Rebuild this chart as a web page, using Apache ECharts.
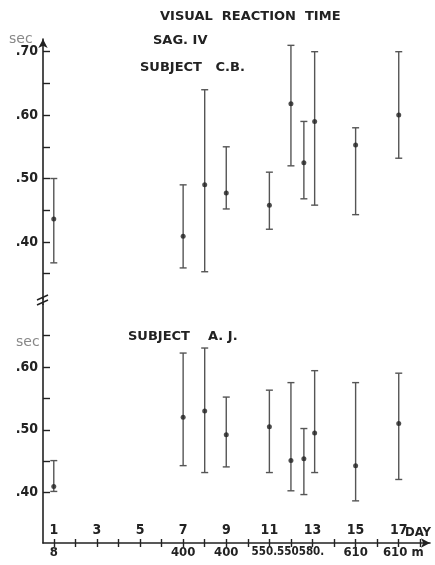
<!DOCTYPE html>
<html><head><meta charset="utf-8">
<script src="https://cdn.jsdelivr.net/npm/echarts@6/dist/echarts.min.js"></script>
<style>html,body{margin:0;padding:0;background:#fff}#c{width:435px;height:565px}</style>
</head><body><div id="c"></div>
<script>
// Data
var days = [1, 7, 8, 9, 11, 12, 12.6, 13.1, 15, 17];
var cbMean = [0.436, 0.409, 0.49, 0.477, 0.458, 0.618, 0.525, 0.59, 0.553, 0.60];
var cbLow  = [0.367, 0.359, 0.353, 0.452, 0.42, 0.52, 0.468, 0.458, 0.443, 0.532];
var cbHigh = [0.50, 0.49, 0.64, 0.55, 0.51, 0.71, 0.59, 0.70, 0.58, 0.70];
var ajMean = [0.41, 0.52, 0.53, 0.492, 0.505, 0.451, 0.454, 0.495, 0.443, 0.51];
var ajLow  = [0.402, 0.443, 0.432, 0.441, 0.432, 0.403, 0.397, 0.432, 0.387, 0.421];
var ajHigh = [0.451, 0.622, 0.63, 0.552, 0.563, 0.575, 0.502, 0.594, 0.575, 0.59];
var dayTicks = [1,2,3,4,5,6,7,8,9,10,11,12,13,14,15,16,17,18];
var dayLabels = [1,3,5,7,9,11,13,15,17];
var altDays = [1, 7, 9, 11, 15, 17];
var altLabels = ['8', '400', '400', '550.550580.', '610', '610 m'];
var yTicksTop = [0.35, 0.40, 0.45, 0.50, 0.55, 0.60, 0.65, 0.70];
var yLabelsTop = [0.40, 0.50, 0.60, 0.70];
var yTicksBot = [0.40, 0.45, 0.50, 0.55, 0.60, 0.65];
var yLabelsBot = [0.40, 0.50, 0.60];

var NARROW = '"Liberation Sans Narrow","DejaVu Sans Condensed",sans-serif';
var INK = '#222';
var BAR = '#555';

function pairs(xs, ys){ return xs.map(function(x,i){return [x, ys[i]];}); }
function triples(xs, lo, hi){ return xs.map(function(x,i){return [x, lo[i], hi[i]];}); }

function errRender(params, api){
  var x = api.value(0);
  var p1 = api.coord([x, api.value(2)]);
  var p2 = api.coord([x, api.value(1)]);
  var w = 3.5;
  var st = {stroke: BAR, lineWidth: 1.4};
  return {type:'group', children:[
    {type:'line', shape:{x1:p1[0], y1:p1[1], x2:p2[0], y2:p2[1]}, style:st},
    {type:'line', shape:{x1:p1[0]-w, y1:p1[1], x2:p1[0]+w, y2:p1[1]}, style:st},
    {type:'line', shape:{x1:p2[0]-w, y1:p2[1], x2:p2[0]+w, y2:p2[1]}, style:st}
  ]};
}

var yLabelStyle = {
  fontFamily: NARROW, fontWeight: 'bold', fontSize: 14, color: INK, margin: 5,
  formatter: function(v){ return '.' + Math.round(v*100); }
};

var xMin = 0.5, xMax = 18.45;
var TFONT = 'bold 13px "DejaVu Sans"';

var option = {
  animation: false,
  grid: [
    {left: 43, width: 387, top: 39, height: 260},
    {left: 43, width: 387, top: 304, height: 239}
  ],
  xAxis: [
    {gridIndex: 0, type: 'value', min: xMin, max: xMax, show: false},
    {gridIndex: 1, type: 'value', min: xMin, max: xMax, position: 'bottom',
      splitLine: {show: false},
      axisLine: {show: true, lineStyle: {color: INK, width: 1.6}, symbol: ['none','arrow'], symbolSize: [7, 9]},
      axisTick: {show: true, inside: true, length: 4, lineStyle: {color: INK, width: 1.4}, customValues: dayTicks},
      axisLabel: {show: true, inside: true, margin: 6, customValues: dayLabels,
        fontFamily: NARROW, fontWeight: 'bold', fontSize: 14, color: INK}
    },
    {gridIndex: 1, type: 'value', min: xMin, max: xMax, position: 'bottom',
      splitLine: {show: false},
      axisLine: {show: false},
      axisTick: {show: true, inside: false, length: 4, lineStyle: {color: INK, width: 1.4}, customValues: dayTicks},
      axisLabel: {show: true, margin: 3, customValues: altDays,
        fontFamily: NARROW, fontWeight: 'bold', fontSize: 13, color: INK,
        formatter: function(v){
          var i = altDays.indexOf(v);
          var t = altLabels[i];
          if (t.length > 8) return '{w|' + t + '}';
          if (t.indexOf('m') >= 0) return '{m|' + t + '}';
          return t;
        },
        rich: {
          w: {fontFamily: NARROW, fontWeight: 'bold', fontSize: 11.5, color: INK, padding: [0,0,0,37]},
          m: {fontFamily: NARROW, fontWeight: 'bold', fontSize: 13, color: INK, padding: [0,0,0,9]}
        }
      }
    }
  ],
  yAxis: [
    {gridIndex: 0, type: 'value', min: 0.31, max: 0.72,
      splitLine: {show: false},
      axisLine: {show: true, lineStyle: {color: INK, width: 1.6}, symbol: ['none','arrow'], symbolSize: [7, 9]},
      axisTick: {show: true, inside: true, length: 7, lineStyle: {color: INK, width: 1.4}, customValues: yTicksTop},
      axisLabel: Object.assign({customValues: yLabelsTop}, yLabelStyle)
    },
    {gridIndex: 1, type: 'value', min: 0.32, max: 0.70,
      splitLine: {show: false},
      axisLine: {show: true, lineStyle: {color: INK, width: 1.6}},
      axisTick: {show: true, inside: true, length: 7, lineStyle: {color: INK, width: 1.4}, customValues: yTicksBot},
      axisLabel: Object.assign({customValues: yLabelsBot}, yLabelStyle)
    }
  ],
  series: [
    {type: 'custom', xAxisIndex: 0, yAxisIndex: 0, renderItem: errRender,
      data: triples(days, cbLow, cbHigh), encode: {x: 0, y: [1, 2]}, silent: true},
    {type: 'scatter', xAxisIndex: 0, yAxisIndex: 0, data: pairs(days, cbMean),
      symbolSize: 5, itemStyle: {color: INK}, silent: true},
    {type: 'custom', xAxisIndex: 1, yAxisIndex: 1, renderItem: errRender,
      data: triples(days, ajLow, ajHigh), encode: {x: 0, y: [1, 2]}, silent: true},
    {type: 'scatter', xAxisIndex: 1, yAxisIndex: 1, data: pairs(days, ajMean),
      symbolSize: 5, itemStyle: {color: INK}, silent: true}
  ],
  graphic: [
    {type: 'text', left: 160, top: 10, style: {text: 'VISUAL  REACTION  TIME', font: TFONT, fill: INK}},
    {type: 'text', left: 153, top: 34, style: {text: 'SAG. IV', font: TFONT, fill: INK}},
    {type: 'text', left: 140, top: 61, style: {text: 'SUBJECT   C.B.', font: TFONT, fill: INK}},
    {type: 'text', left: 128, top: 330, style: {text: 'SUBJECT    A. J.', font: TFONT, fill: INK}},
    {type: 'text', left: 9, top: 32, style: {text: 'sec', font: '14px "DejaVu Sans"', fill: '#888'}},
    {type: 'text', left: 16, top: 335, style: {text: 'sec', font: '14px "DejaVu Sans"', fill: '#888'}},
    {type: 'text', left: 405, top: 526, style: {text: 'DAY', font: 'bold 13px ' + NARROW, fill: INK}},
    {type: 'line', shape: {x1: 37, y1: 300, x2: 48, y2: 295}, style: {stroke: INK, lineWidth: 1.4}},
    {type: 'line', shape: {x1: 37, y1: 305, x2: 48, y2: 300}, style: {stroke: INK, lineWidth: 1.4}},
    {type: 'line', shape: {x1: 43, y1: 298, x2: 43, y2: 305}, style: {stroke: INK, lineWidth: 1.6}}
  ]
};
var chart = echarts.init(document.getElementById('c'), null, {renderer: 'canvas'});
chart.setOption(option);
</script></body></html>
